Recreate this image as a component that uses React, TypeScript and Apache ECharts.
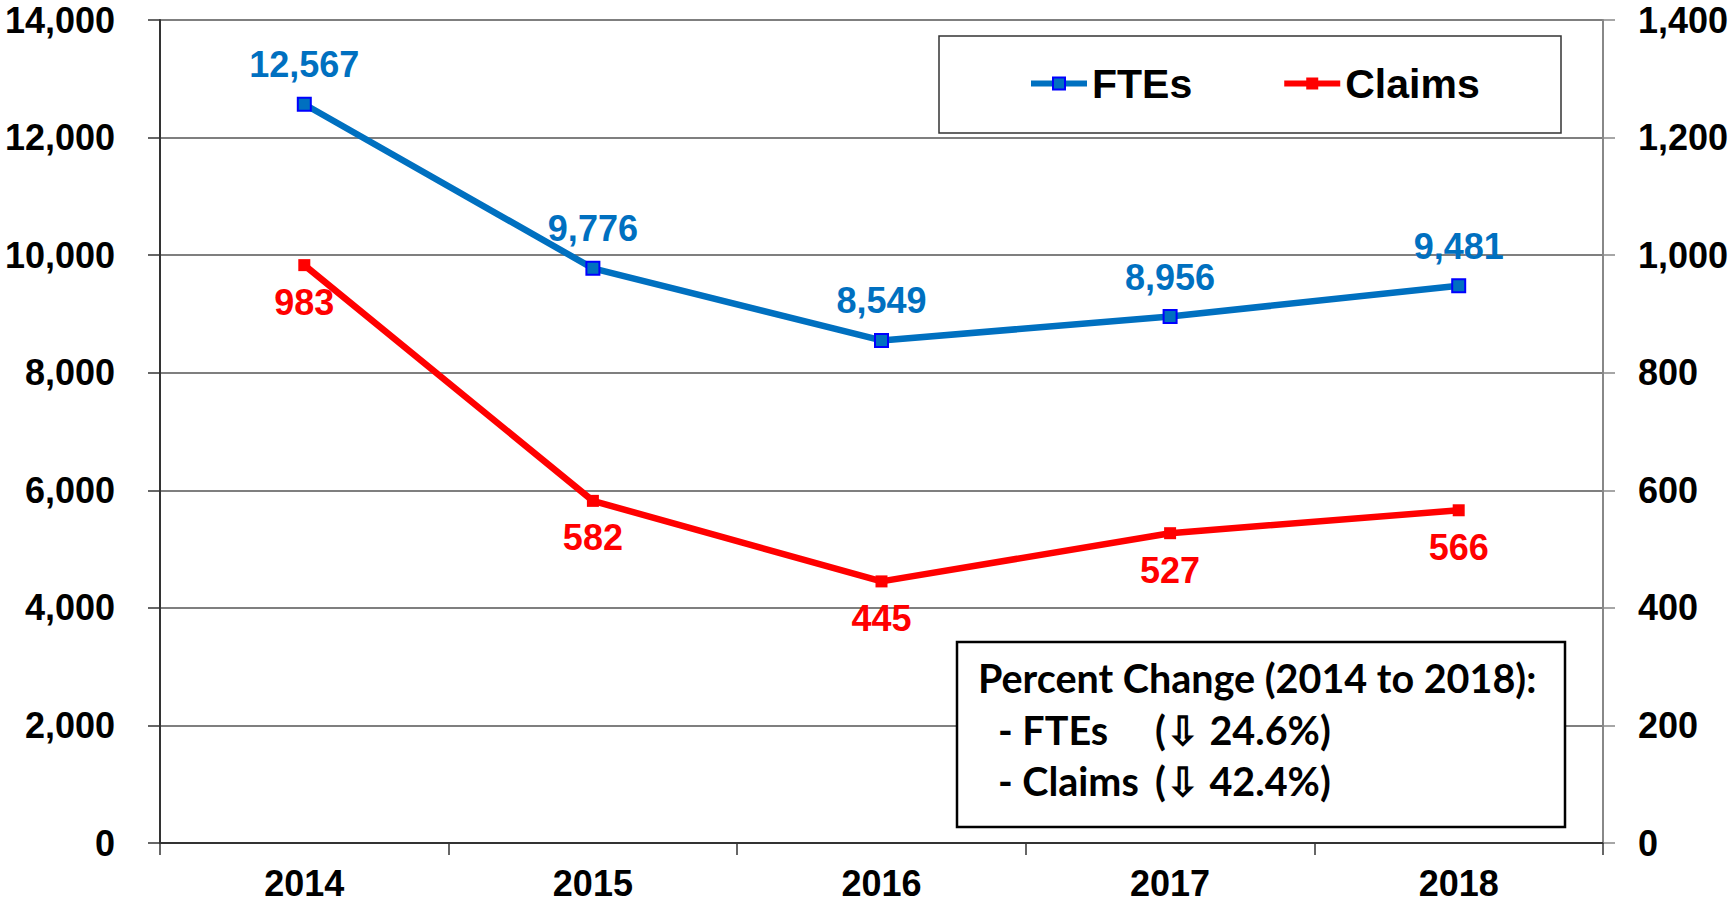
import React, { useEffect, useRef } from "react";
import * as echarts from "echarts";

const years = ["2014", "2015", "2016", "2017", "2018"];
const ftes = [12567, 9776, 8549, 8956, 9481];
const claims = [983, 582, 445, 527, 566];
const leftTicks = { min: 0, max: 14000, interval: 2000 };
const rightTicks = { min: 0, max: 1400, interval: 200 };
const noteTitle = "Percent Change (2014 to 2018):";
const noteRows = [
  ["- FTEs", "(\u21E9 24.6%)"],
  ["- Claims", "(\u21E9 42.4%)"],
];

const fmt = (v: number) => Number(v).toLocaleString("en-US");
const FONT = "'Liberation Sans', Arial, sans-serif";
const NOTE_FONT = "Lato, 'Noto Sans', sans-serif";

export default function App() {
  const ref = useRef<HTMLDivElement>(null);
  useEffect(() => {
    if (!ref.current) return;
    const chart = echarts.init(ref.current, undefined, { renderer: "svg" });
    const axisLabel = { fontSize: 36, fontWeight: "bold", color: "#000", fontFamily: FONT };
    const noteFont = `bold 39.5px ${NOTE_FONT}`;
    const noteText: any[] = [
      {
        type: "text",
        x: 978,
        y: 677,
        z: 101,
        style: { text: noteTitle, font: noteFont, fill: "#000", verticalAlign: "middle" },
      },
    ];
    noteRows.forEach((r, i) => {
      noteText.push({
        type: "text",
        x: 998,
        y: 729 + i * 51,
        z: 101,
        style: { text: r[0], font: noteFont, fill: "#000", verticalAlign: "middle" },
      });
      noteText.push({
        type: "text",
        x: 1155,
        y: 729 + i * 51,
        z: 101,
        style: { text: r[1], font: noteFont, fill: "#000", verticalAlign: "middle" },
      });
    });
    chart.setOption({
      animation: false,
      backgroundColor: "#fff",
      grid: { left: 160, right: 130, top: 20, bottom: 61 },
      legend: {
        left: 1028,
        top: 63,
        padding: 0,
        itemWidth: 56,
        itemHeight: 15,
        itemGap: 89,
        lineStyle: { width: 6 },
        textStyle: { fontSize: 41, fontWeight: "bold", color: "#000", fontFamily: FONT },
        data: ["FTEs", "Claims"],
      },
      xAxis: {
        type: "category",
        data: years,
        boundaryGap: true,
        axisLine: { lineStyle: { color: "#333", width: 2 } },
        axisTick: { show: true, length: 12, lineStyle: { color: "#333", width: 1.5 } },
        axisLabel: { ...axisLabel, margin: 22 },
      },
      yAxis: [
        {
          type: "value",
          ...leftTicks,
          position: "left",
          axisLine: { show: true, lineStyle: { color: "#333", width: 2 } },
          axisTick: { show: true, length: 12, lineStyle: { color: "#333", width: 1.5 } },
          splitLine: { show: true, lineStyle: { color: "#555", width: 1.5 } },
          axisLabel: { ...axisLabel, margin: 45, formatter: (v: number) => fmt(v) },
        },
        {
          type: "value",
          ...rightTicks,
          position: "right",
          axisLine: { show: true, lineStyle: { color: "#888", width: 2 } },
          axisTick: { show: true, length: 12, lineStyle: { color: "#888", width: 1.5 } },
          splitLine: { show: false },
          axisLabel: { ...axisLabel, margin: 35, formatter: (v: number) => fmt(v) },
        },
      ],
      series: [
        {
          name: "FTEs",
          type: "line",
          yAxisIndex: 0,
          data: ftes,
          color: "#0070C0",
          symbol: "rect",
          symbolSize: 13,
          lineStyle: { width: 6.5, color: "#0070C0" },
          itemStyle: { color: "#0070C0", borderColor: "#0000FF", borderWidth: 2 },
          label: {
            show: true,
            position: "top",
            distance: 14,
            fontSize: 36,
            fontWeight: "bold",
            color: "#0070C0",
            fontFamily: FONT,
            formatter: (p: any) => fmt(p.value),
          },
          z: 3,
        },
        {
          name: "Claims",
          type: "line",
          yAxisIndex: 1,
          data: claims,
          color: "#FF0000",
          symbol: "rect",
          symbolSize: 12,
          lineStyle: { width: 6.5, color: "#FF0000" },
          itemStyle: { color: "#FF0000" },
          label: {
            show: true,
            position: "bottom",
            distance: 13,
            fontSize: 36,
            fontWeight: "bold",
            color: "#FF0000",
            fontFamily: FONT,
            formatter: (p: any) => fmt(p.value),
          },
          z: 3,
        },
      ],
      graphic: [
        {
          type: "rect",
          z: 100,
          shape: { x: 939, y: 36, width: 622, height: 97 },
          style: { fill: "none", stroke: "#333", lineWidth: 1.5 },
        },
        {
          type: "rect",
          z: 100,
          shape: { x: 957, y: 642, width: 608, height: 185 },
          style: { fill: "#fff", stroke: "#000", lineWidth: 2.5 },
        },
        ...noteText,
      ],
    });
    return () => chart.dispose();
  }, []);
  return <div ref={ref} style={{ position: "fixed", left: 0, top: 0, width: 1733, height: 904 }} />;
}
